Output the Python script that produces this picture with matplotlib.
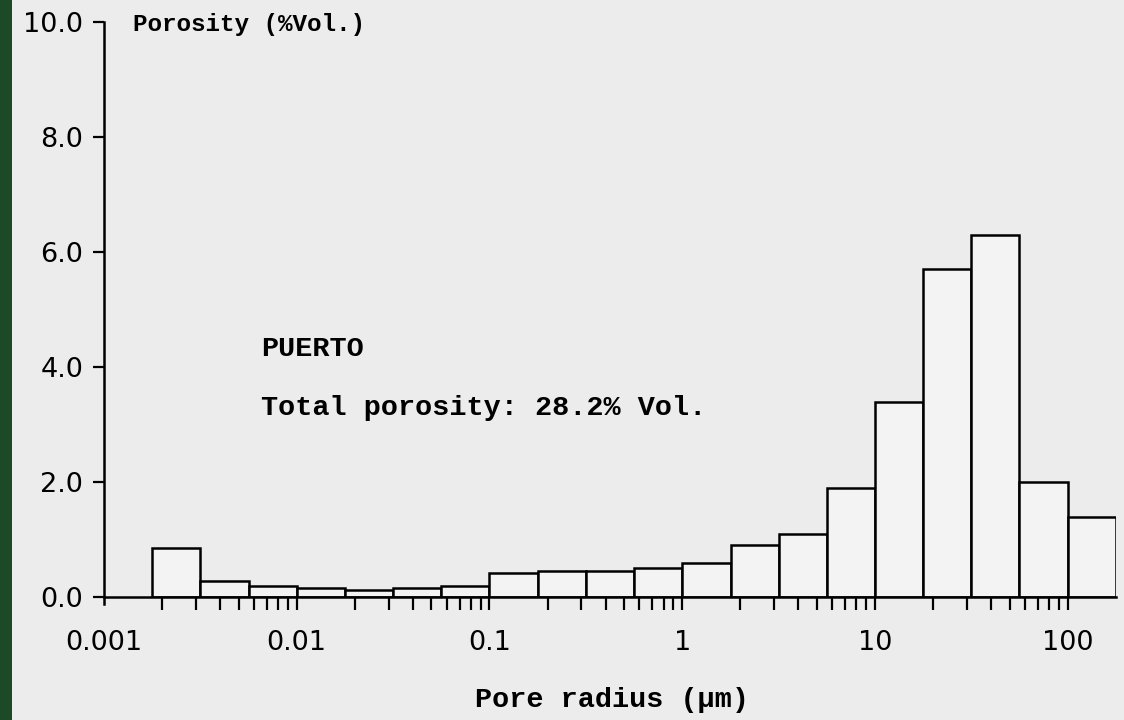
import numpy as np
import matplotlib.pyplot as plt
from matplotlib.patches import Rectangle

# quarter-decade pore radius classes (um)
binEdges = [0.00178, 0.00316, 0.00562, 0.01, 0.0178, 0.0316, 0.0562, 0.1,
            0.178, 0.316, 0.562, 1.0, 1.78, 3.16, 5.62, 10.0, 17.8, 31.6,
            56.2, 100.0, 178.0]
porosity = [0.85, 0.28, 0.2, 0.15, 0.12, 0.15, 0.2, 0.42, 0.46, 0.45,
            0.5, 0.6, 0.9, 1.1, 1.9, 3.4, 5.7, 6.3, 2.0, 1.4]

xTicks = [0.001, 0.01, 0.1, 1, 10, 100]
xTickLabels = ["0.001", "0.01", "0.1", "1", "10", "100"]
yTicks = [0, 2, 4, 6, 8, 10]
yTickLabels = ["0.0", "2.0", "4.0", "6.0", "8.0", "10.0"]

bg = "#ececec"
mono = "Liberation Mono"

fig = plt.figure(figsize=(11.24, 7.2), dpi=100, facecolor=bg)
ax = fig.add_axes([104 / 1124, 1 - 597 / 720, (1116 - 104) / 1124, (597 - 22) / 720])
ax.set_facecolor("none")

# green strip of the slide at the left edge
fig.patches.append(Rectangle((0, 0), 12 / 1124, 1, transform=fig.transFigure,
                             facecolor="#1d4a26", edgecolor="none", zorder=0))

left = np.array(binEdges[:-1])
widths = np.diff(binEdges)
ax.bar(left, porosity, width=widths, align="edge", facecolor="#f3f3f3",
       edgecolor="black", linewidth=1.8)

ax.set_xscale("log")
ax.set_xlim(0.001, binEdges[-1])
ax.set_ylim(0, 10)

for s in ["top", "right"]:
    ax.spines[s].set_visible(False)
ax.spines["left"].set_linewidth(1.8)
ax.spines["bottom"].set_linewidth(1.8)
ax.spines["left"].set_bounds(-0.12, 10)

ax.set_xticks(xTicks)
ax.set_xticklabels(xTickLabels)
ax.set_yticks(yTicks)
ax.set_yticklabels(yTickLabels)
ax.tick_params(axis="x", which="major", direction="out", length=9, width=1.6,
               pad=15, labelsize=19.5)
ax.tick_params(axis="x", which="minor", direction="out", length=9, width=1.6)
ax.tick_params(axis="y", direction="out", length=8, width=1.6, pad=7,
               labelsize=19.5)
# no major tick at 0.001, the spine runs there already
ax.xaxis.get_major_ticks()[0].tick1line.set_visible(False)

fig.text(133 / 1124, 1 - 24 / 720, "Porosity (%Vol.)", family=mono,
         weight="bold", fontsize=17.5, va="center", ha="left")
fig.text(261 / 1124, 1 - 349 / 720, "PUERTO", family=mono, weight="bold",
         fontsize=20.5, va="center", ha="left")
fig.text(261 / 1124, 1 - 408 / 720, "Total porosity: 28.2% Vol.", family=mono,
         weight="bold", fontsize=20.5, va="center", ha="left")
fig.text(475 / 1124, 1 - 700 / 720, "Pore radius (\u00b5m)", family=mono,
         weight="bold", fontsize=20.5, va="center", ha="left")

fig.savefig("out.png", dpi=100, facecolor=bg)
